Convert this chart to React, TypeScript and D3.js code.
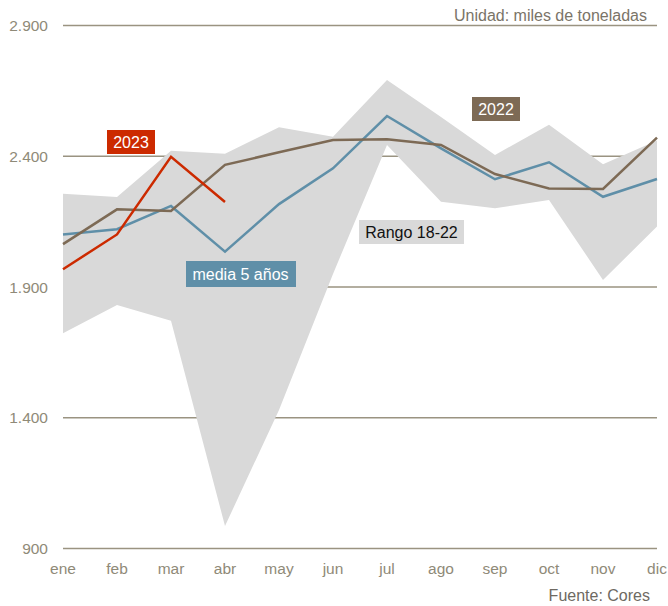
import React from "react";
import * as d3 from "d3";

const months = ["ene", "feb", "mar", "abr", "may", "jun", "jul", "ago", "sep", "oct", "nov", "dic"];
const rangeMax = [2257, 2244, 2421, 2410, 2511, 2475, 2692, 2550, 2405, 2520, 2369, 2460];
const rangeMin = [1723, 1831, 1771, 986, 1430, 1950, 2443, 2226, 2201, 2233, 1927, 2131];
const media5 = [2101, 2121, 2210, 2035, 2217, 2354, 2554, 2430, 2312, 2377, 2245, 2313];
const y2022 = [2064, 2197, 2191, 2367, 2415, 2462, 2465, 2443, 2332, 2277, 2275, 2471];
const y2023 = [1968, 2101, 2398, 2225];
const yTicks = [900, 1400, 1900, 2400, 2900];

const W = 668;
const H = 606;
const FONT = "'Liberation Sans', Arial, sans-serif";
const GRID = "#9a9381";
const TICK = "#8f8a78";

export default function App() {
  const x = d3.scalePoint<string>().domain(months).range([63, 657]);
  const y = d3.scaleLinear().domain([900, 2900]).range([548.5, 25.5]);
  const fmt = (v: number) => d3.format(",")(v).replace(/,/g, ".");

  const area = d3
    .area<number>()
    .x((_, i) => x(months[i])!)
    .y0((_, i) => y(rangeMin[i]))
    .y1((d) => y(d));
  const line = d3
    .line<number>()
    .x((_, i) => x(months[i])!)
    .y((d) => y(d));

  return (
    <svg width={W} height={H} style={{ position: "absolute", left: 0, top: 0, background: "#fff" }} fontFamily={FONT}>
      {yTicks.map((t) => (
        <g key={t}>
          <line x1={63} x2={657} y1={y(t)} y2={y(t)} stroke={GRID} strokeWidth={1.5} />
          <text x={48} y={y(t) + 5.5} textAnchor="end" fontSize={15.5} fill={TICK}>
            {fmt(t)}
          </text>
        </g>
      ))}
      <path d={area(rangeMax) || ""} fill="#d9d9d9" />
      <path d={line(media5) || ""} fill="none" stroke="#5f8fa8" strokeWidth={2.5} />
      <path d={line(y2022) || ""} fill="none" stroke="#7d6a55" strokeWidth={2.5} />
      <path d={line(y2023) || ""} fill="none" stroke="#cc2a00" strokeWidth={2.5} />
      {months.map((m) => (
        <text key={m} x={x(m)} y={574} textAnchor="middle" fontSize={15.5} fill={TICK}>
          {m}
        </text>
      ))}
      <text x={647} y={21} textAnchor="end" fontSize={16} fill="#7a7468">
        Unidad: miles de toneladas
      </text>
      <text x={650} y={601} textAnchor="end" fontSize={16} fill="#6e6a62">
        Fuente: Cores
      </text>

      <rect x={107} y={130} width={48} height={24} fill="#cc2a00" />
      <text x={131} y={148} textAnchor="middle" fontSize={16} fill="#fff">2023</text>

      <rect x={186} y={261} width={110} height={26} fill="#5f8fa8" />
      <text x={240.5} y={280} textAnchor="middle" fontSize={16} fill="#fff">media 5 años</text>

      <rect x={472} y={97} width={48} height={24} fill="#7d6a55" />
      <text x={496} y={115} textAnchor="middle" fontSize={16} fill="#fff">2022</text>

      <rect x={359} y={220} width={105} height={24} fill="#d9d9d9" />
      <text x={411.5} y={238} textAnchor="middle" fontSize={16} fill="#111">Rango 18-22</text>
    </svg>
  );
}
